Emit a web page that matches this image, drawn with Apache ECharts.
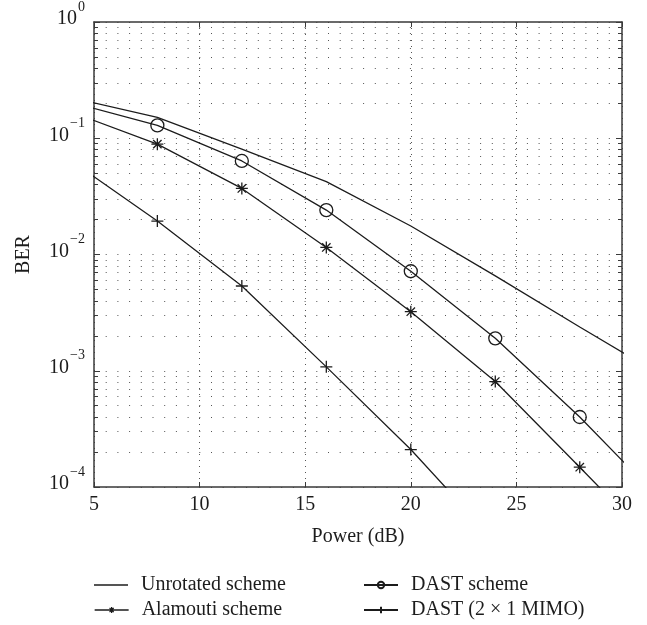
<!DOCTYPE html>
<html>
<head>
<meta charset="utf-8">
<script src="https://cdn.jsdelivr.net/npm/echarts@6/dist/echarts.min.js"></script>
<style>
  html, body { margin: 0; padding: 0; background: #fff; }
  #chart { width: 647px; height: 625px; }
</style>
</head>
<body>
<div id="chart"></div>
<script>
// ---- data ----
const powerDb = [4, 8, 12, 16, 20, 24, 28, 32];
const unrotated = [0.222, 0.151, 0.0807, 0.0424, 0.0176, 0.00655, 0.00238, 0.00088];
const dast      = [0.202, 0.129, 0.0638, 0.0241, 0.00718, 0.0019, 0.0004, 0.000072];
const alamouti  = [0.166, 0.089, 0.037, 0.0115, 0.00322, 0.000807, 0.000148, 0.0000265];
const mimo      = [0.0626, 0.0194, 0.00536, 0.00108, 0.00021, 0.000034, null, null];
const seriesNames = ['Unrotated scheme', 'Alamouti scheme', 'DAST scheme', 'DAST (2 \u00d7 1 MIMO)'];
const xTicks = [5, 10, 15, 20, 25, 30];

const FONT = '"Liberation Serif", "Times New Roman", serif';
const INK = '#1c1c1c';
const AXIS = '#3a3a3a';
const DOT = '#555';

function pairs(ys) {
  const out = [];
  powerDb.forEach((x, i) => { if (ys[i] != null) out.push([x, ys[i]]); });
  return out;
}

const ASTERISK = 'path://M5,0 L5,10 M0,5 L10,5 M1.5,1.5 L8.5,8.5 M1.5,8.5 L8.5,1.5';
const PLUS = 'path://M5,0 L5,10 M0,5 L10,5';
const BAR = 'path://M0,0 L34,0 L34,1.3 L0,1.3 Z';
const LEGEND_ASTERISK = 'path://M0,4 L34,4 M17,1 L17,7 M14,4 L20,4 M14.9,1.9 L19.1,6.1 M14.9,6.1 L19.1,1.9';

const lineStyle = { color: INK, width: 1.3 };

function expLabel(v) {
  const e = Math.round(Math.log10(v));
  const s = e < 0 ? '\u2212' + (-e) : String(e);
  return '{b|10}{s|' + s + '}';
}

const axisLineStyle = { color: AXIS, width: 1.5 };
const dotted = { color: DOT, width: 1, type: [1, 10.7] };

const option = {
  animation: false,
  backgroundColor: '#fff',
  grid: { left: 94, right: 25, top: 15, bottom: 138 },
  xAxis: [
    {
      type: 'value', min: xTicks[0], max: xTicks[xTicks.length - 1], interval: 5,
      position: 'bottom',
      axisLine: { show: true, onZero: false, lineStyle: axisLineStyle },
      axisTick: { show: true, inside: true, length: 5, lineStyle: { color: AXIS, width: 1 } },
      axisLabel: { margin: 8, fontFamily: FONT, fontSize: 20, color: INK },
      splitLine: { show: true, lineStyle: { color: DOT, width: 1, type: [1, 5] } },
      name: 'Power (dB)', nameLocation: 'middle', nameGap: 40,
      nameTextStyle: { fontFamily: FONT, fontSize: 20, color: INK }
    },
    {
      type: 'value', min: xTicks[0], max: xTicks[xTicks.length - 1], interval: 5,
      position: 'top',
      axisLine: { show: true, onZero: false, lineStyle: axisLineStyle },
      axisTick: { show: true, inside: true, length: 5, lineStyle: { color: AXIS, width: 1 } },
      axisLabel: { show: false },
      splitLine: { show: false }
    }
  ],
  yAxis: [
    {
      type: 'log', logBase: 10, min: 1e-4, max: 1,
      position: 'left',
      axisLine: { show: true, onZero: false, lineStyle: axisLineStyle },
      axisTick: { show: true, inside: true, length: 6, lineStyle: { color: AXIS, width: 1 } },
      minorTick: { show: true, splitNumber: 9, length: 4, lineStyle: { color: AXIS, width: 1 } },
      minorSplitLine: { show: true, lineStyle: dotted },
      splitLine: { show: true, lineStyle: dotted },
      axisLabel: {
        margin: 9, formatter: expLabel, padding: [0, 0, 6, 0],
        rich: {
          b: { fontFamily: FONT, fontSize: 20, lineHeight: 20, color: INK, verticalAlign: 'bottom' },
          s: { fontFamily: FONT, fontSize: 14, lineHeight: 14, color: INK, verticalAlign: 'bottom', padding: [0, 0, 15, 1] }
        }
      },
      name: 'BER', nameLocation: 'middle', nameGap: 60, nameRotate: 90,
      nameTextStyle: { fontFamily: FONT, fontSize: 20, color: INK }
    },
    {
      type: 'log', logBase: 10, min: 1e-4, max: 1,
      position: 'right',
      axisLine: { show: true, onZero: false, lineStyle: axisLineStyle },
      axisTick: { show: true, inside: true, length: 6, lineStyle: { color: AXIS, width: 1 } },
      minorTick: { show: true, splitNumber: 9, length: 4, lineStyle: { color: AXIS, width: 1 } },
      axisLabel: { show: false },
      splitLine: { show: false }
    }
  ],
  legend: [
    { data: [{ name: seriesNames[0], icon: BAR }], left: 94, top: 575 },
    { data: [{ name: seriesNames[1], icon: LEGEND_ASTERISK,
               itemStyle: { color: 'rgba(0,0,0,0)', borderColor: INK, borderWidth: 1.3 } }],
      left: 94, top: 600 },
    { data: [seriesNames[2]], left: 363, top: 575 },
    { data: [seriesNames[3]], left: 363, top: 600 }
  ].map(l => Object.assign({
    orient: 'horizontal', itemWidth: 34, itemHeight: 8, itemGap: 0, padding: 0,
    textStyle: { fontFamily: FONT, fontSize: 20, color: INK, padding: [0, 0, 0, 8] }
  }, l)),
  series: [
    {
      name: seriesNames[0], type: 'line', data: pairs(unrotated),
      symbol: 'none', showSymbol: false, lineStyle: lineStyle, itemStyle: { color: INK },
      clip: true, z: 3
    },
    {
      name: seriesNames[1], type: 'line', data: pairs(alamouti),
      symbol: ASTERISK, symbolSize: 12, lineStyle: lineStyle,
      itemStyle: { color: INK, borderColor: INK, borderWidth: 1.3 },
      clip: true, z: 3
    },
    {
      name: seriesNames[2], type: 'line', data: pairs(dast),
      symbol: 'circle', symbolSize: 13, lineStyle: lineStyle,
      itemStyle: { color: 'rgba(0,0,0,0)', borderColor: INK, borderWidth: 1.3 },
      clip: true, z: 3
    },
    {
      name: seriesNames[3], type: 'line', data: pairs(mimo),
      symbol: PLUS, symbolSize: 12, lineStyle: lineStyle,
      itemStyle: { color: INK, borderColor: INK, borderWidth: 1.3 },
      clip: true, z: 3
    }
  ]
};

const chart = echarts.init(document.getElementById('chart'), null, { renderer: 'canvas' });
chart.setOption(option);
</script>
</body>
</html>
